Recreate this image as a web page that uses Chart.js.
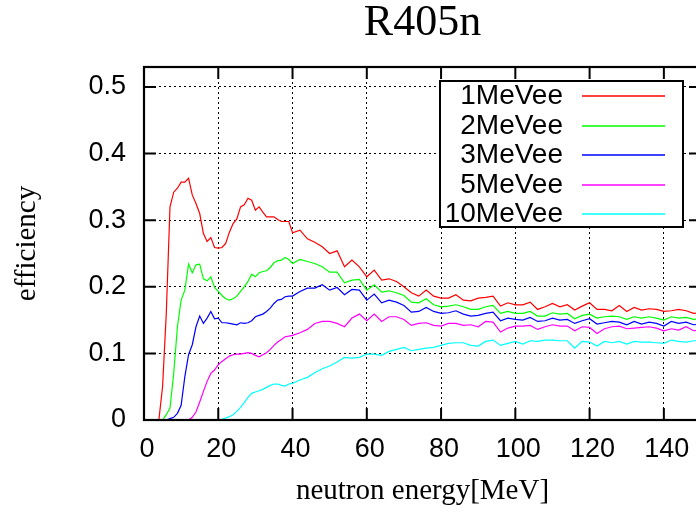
<!DOCTYPE html>
<html>
<head>
<meta charset="utf-8">
<script src="https://cdn.jsdelivr.net/npm/chart.js@4/dist/chart.umd.min.js"></script>
<style>
  html, body { margin: 0; padding: 0; background: #fff; overflow: hidden; }
  #wrap { width: 720px; height: 512px; }
</style>
</head>
<body>
<div id="wrap"><canvas id="effChart" width="720" height="512"></canvas></div>
<script>
// neutron energy [MeV]
const energy = [
  0,1,2,3,4,5,6,7,8,9,10,11,12,13,14,15,16,17,18,19,20,
  21,22,23,24,25,26,27,28,29,30,31,32,33,34,35,36,37,38,39,40,
  42,44,46,48,50,52,54,56,58,60,62,64,66,68,70,72,74,76,78,80,
  82,84,86,88,90,92,94,96,98,100,102,104,106,108,110,112,114,116,118,120,
  122,124,126,128,130,132,134,136,138,140,142,144,146,148,150
];

const eff1 = [
  0,0,0,0,0,0.05,0.16,0.32,0.342,0.348,0.357,0.357,0.363,0.338,0.325,0.31,0.28,0.268,0.274,0.259,0.258,
  0.259,0.265,0.282,0.295,0.302,0.32,0.323,0.333,0.33,0.315,0.32,0.312,0.305,0.305,0.305,0.301,0.298,0.298,0.298,0.281,
  0.285,0.272,0.267,0.26,0.25,0.254,0.23,0.24,0.23,0.215,0.225,0.21,0.212,0.208,0.2,0.191,0.186,0.195,0.186,0.183,
  0.183,0.188,0.18,0.179,0.183,0.184,0.186,0.171,0.176,0.173,0.173,0.177,0.166,0.17,0.175,0.17,0.173,0.165,0.171,0.176,
  0.166,0.166,0.164,0.172,0.163,0.169,0.165,0.167,0.166,0.163,0.164,0.166,0.164,0.16,0.161
];
const eff2 = [
  0,0,0,0,0,0,0.008,0.018,0.07,0.14,0.18,0.195,0.234,0.221,0.233,0.234,0.212,0.209,0.215,0.199,0.193,
  0.187,0.182,0.18,0.182,0.186,0.193,0.2,0.208,0.219,0.215,0.221,0.223,0.224,0.229,0.236,0.239,0.24,0.244,0.241,0.235,
  0.241,0.238,0.235,0.23,0.222,0.222,0.206,0.21,0.211,0.195,0.203,0.192,0.194,0.191,0.187,0.177,0.176,0.182,0.173,0.17,
  0.171,0.173,0.17,0.166,0.166,0.17,0.172,0.16,0.163,0.16,0.16,0.163,0.156,0.156,0.161,0.159,0.16,0.152,0.157,0.159,
  0.153,0.155,0.156,0.155,0.151,0.155,0.153,0.155,0.153,0.15,0.155,0.153,0.154,0.151,0.152
];
const eff3 = [
  0,0,0,0,0,0,0,0.002,0.004,0.01,0.022,0.065,0.098,0.113,0.14,0.156,0.145,0.153,0.163,0.152,0.153,
  0.146,0.146,0.145,0.144,0.143,0.146,0.145,0.146,0.149,0.155,0.157,0.159,0.163,0.168,0.175,0.18,0.181,0.185,0.186,0.186,
  0.193,0.198,0.198,0.203,0.195,0.199,0.188,0.196,0.195,0.18,0.189,0.176,0.18,0.177,0.172,0.162,0.163,0.169,0.163,0.16,
  0.161,0.164,0.159,0.156,0.157,0.16,0.162,0.149,0.153,0.151,0.15,0.154,0.148,0.149,0.153,0.15,0.151,0.145,0.149,0.152,
  0.144,0.146,0.148,0.147,0.143,0.148,0.144,0.147,0.145,0.141,0.148,0.145,0.147,0.143,0.144
];
const eff5 = [
  0,0,0,0,0,0,0,0,0,0,0,0,0,0.004,0.012,0.027,0.043,0.058,0.07,0.075,0.083,
  0.088,0.092,0.096,0.098,0.099,0.099,0.1,0.101,0.1,0.097,0.095,0.098,0.101,0.106,0.112,0.117,0.121,0.125,0.126,0.127,
  0.131,0.136,0.145,0.148,0.148,0.145,0.14,0.153,0.159,0.149,0.159,0.148,0.155,0.155,0.151,0.142,0.145,0.146,0.142,0.141,
  0.145,0.145,0.142,0.143,0.14,0.148,0.147,0.132,0.138,0.141,0.141,0.142,0.136,0.14,0.143,0.141,0.141,0.134,0.14,0.139,
  0.13,0.137,0.14,0.141,0.137,0.138,0.139,0.14,0.138,0.134,0.137,0.135,0.14,0.134,0.135
];
const eff10 = [
  0,0,0,0,0,0,0,0,0,0,0,0,0,0,0,0,0,0,0,0,0,
  0.001,0.003,0.005,0.008,0.013,0.019,0.026,0.034,0.04,0.042,0.044,0.046,0.049,0.052,0.054,0.054,0.052,0.051,0.054,0.055,
  0.06,0.064,0.071,0.077,0.081,0.087,0.094,0.093,0.094,0.099,0.099,0.097,0.103,0.106,0.109,0.104,0.106,0.108,0.109,0.112,
  0.115,0.116,0.116,0.112,0.111,0.118,0.12,0.112,0.115,0.118,0.114,0.119,0.118,0.12,0.12,0.119,0.119,0.108,0.118,0.117,
  0.111,0.118,0.116,0.118,0.114,0.118,0.117,0.117,0.116,0.115,0.12,0.118,0.117,0.119,0.119
];

const seriesNames = ["1MeVee", "2MeVee", "3MeVee", "5MeVee", "10MeVee"];
const seriesValues = [eff1, eff2, eff3, eff5, eff10];
const seriesColors = ["#ff0000", "#00ff00", "#0000ff", "#ff00ff", "#00ffff"];

const xTicks = [0, 20, 40, 60, 80, 100, 120, 140];
const yTicks = [0, 0.1, 0.2, 0.3, 0.4, 0.5];

const sans = "'Liberation Sans', Arial, Helvetica, sans-serif";
const serif = "'Liberation Serif', 'Times New Roman', serif";

// gnuplot style frame: thick border + inward ticks on all four sides, plus the key
const framePlugin = {
    id: "frame",
    afterDraw(chart) {
        const { ctx, chartArea: a, scales } = chart;
        const tl = 12;
        ctx.save();
        ctx.strokeStyle = "#000";
        ctx.lineWidth = 2;
        ctx.beginPath();
        scales.x.ticks.forEach(t => {
            const px = scales.x.getPixelForValue(t.value);
            ctx.moveTo(px, a.bottom); ctx.lineTo(px, a.bottom - tl);
            ctx.moveTo(px, a.top); ctx.lineTo(px, a.top + tl);
        });
        scales.y.ticks.forEach(t => {
            const py = scales.y.getPixelForValue(t.value);
            ctx.moveTo(a.left, py); ctx.lineTo(a.left + tl, py);
            ctx.moveTo(a.right, py); ctx.lineTo(a.right - tl, py);
        });
        ctx.stroke();
        ctx.lineWidth = 2.2;
        ctx.strokeRect(a.left, a.top, a.right - a.left, a.bottom - a.top);

        // key box
        const bx = 440, by = 81, bw = 243, bh = 146;
        ctx.fillStyle = "#fff";
        ctx.fillRect(bx, by, bw, bh);
        ctx.lineWidth = 2;
        ctx.strokeStyle = "#000";
        ctx.strokeRect(bx, by, bw, bh);
        ctx.font = "28px " + sans;
        ctx.textAlign = "right";
        ctx.textBaseline = "middle";
        seriesNames.forEach((name, i) => {
            const y = Math.round(96 + i * 29.5);
            ctx.fillStyle = "#000";
            ctx.fillText(name, 563, y);
            ctx.strokeStyle = seriesColors[i];
            ctx.lineWidth = 1.6;
            ctx.beginPath();
            ctx.moveTo(582, y); ctx.lineTo(665, y);
            ctx.stroke();
        });
        ctx.restore();
    }
};

const ctx = document.getElementById("effChart");
new Chart(ctx, {
    type: "line",
    data: {
        datasets: seriesNames.map((name, i) => ({
            label: name,
            data: energy.map((e, j) => ({ x: e, y: seriesValues[i][j] })),
            borderColor: seriesColors[i],
            borderWidth: 1.2,
            pointRadius: 0,
            tension: 0,
            fill: false
        }))
    },
    options: {
        responsive: false,
        animation: false,
        devicePixelRatio: 1,
        layout: { padding: { left: 0, right: 19, top: 0, bottom: 0 } },
        plugins: {
            legend: { display: false },
            tooltip: { enabled: false },
            title: {
                display: true,
                text: "R405n",
                fullSize: false,
                color: "#000",
                font: { family: serif, size: 44, weight: "normal", lineHeight: 1 },
                padding: { top: 1, bottom: 22 }
            }
        },
        scales: {
            x: {
                type: "linear",
                min: 0,
                max: 150,
                afterBuildTicks: s => { s.ticks = xTicks.map(v => ({ value: v })); },
                afterFit: s => { s.height = 92; },
                ticks: { color: "#000", font: { family: sans, size: 27 }, padding: 13, labelOffset: 3, maxRotation: 0 },
                grid: { color: "#000", lineWidth: 1, drawTicks: false },
                border: { display: false, dash: [2, 3] },
                title: {
                    display: true,
                    text: "neutron energy[MeV]",
                    color: "#000",
                    font: { family: serif, size: 29, lineHeight: 1 },
                    padding: { top: 0, bottom: 6 }
                }
            },
            y: {
                min: 0,
                max: 0.53,
                afterBuildTicks: s => { s.ticks = yTicks.map(v => ({ value: v })); },
                afterFit: s => { s.width = 144; },
                ticks: { color: "#000", font: { family: sans, size: 27 }, padding: 18,
                         callback: v => (v === 0 ? "0" : v.toFixed(1)) },
                grid: { color: "#000", lineWidth: 1, drawTicks: false },
                border: { display: false, dash: [2, 3] },
                title: {
                    display: true,
                    text: "efficiency",
                    color: "#000",
                    font: { family: serif, size: 29, lineHeight: 1 },
                    padding: { top: 13, bottom: 0 }
                }
            }
        }
    },
    plugins: [framePlugin]
});
</script>
</body>
</html>
